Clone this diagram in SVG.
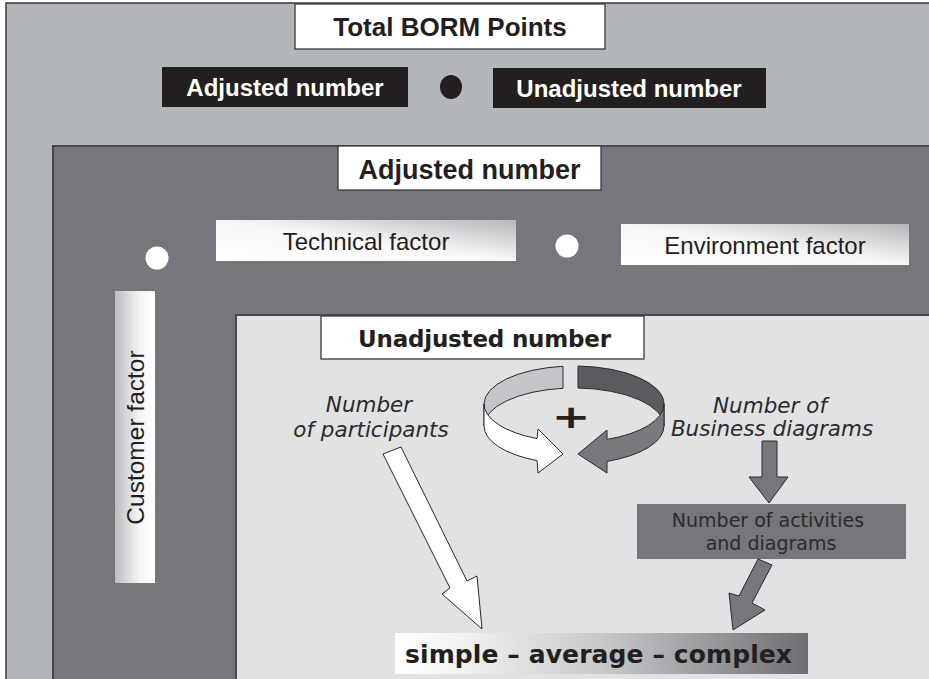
<svg xmlns="http://www.w3.org/2000/svg" width="929" height="679" viewBox="0 0 929 679">
<defs>
<style>
.bold{font-family:"Liberation Sans",Arial,sans-serif;font-weight:bold;fill:#231f20}
.wtxt{font-family:"Liberation Sans",Arial,sans-serif;font-weight:bold;fill:#ffffff}
.reg{font-family:"Liberation Sans",Arial,sans-serif;fill:#231f20}
.vb{font-family:"DejaVu Sans",Verdana,sans-serif;font-weight:bold;fill:#231f20}
.vi{font-family:"DejaVu Sans",Verdana,sans-serif;font-style:italic;fill:#2b2b2b}
.vr{font-family:"DejaVu Sans",Verdana,sans-serif;fill:#2b2b2b}
.wbox{fill:#ffffff;stroke:#3a3a3a;stroke-width:1.3}
.blk{fill:#231f20}
.edge{stroke:#2a2a2a;stroke-width:1;stroke-linejoin:miter}
</style>
<linearGradient id="gFactor" x1="0" y1="1" x2="1" y2="0">
<stop offset="0" stop-color="#ffffff"/>
<stop offset="0.5" stop-color="#f7f7f8"/>
<stop offset="1" stop-color="#b5b6b9"/>
</linearGradient>
<linearGradient id="gCust" x1="0" y1="0" x2="1" y2="0">
<stop offset="0" stop-color="#bcbdc0"/>
<stop offset="0.6" stop-color="#f4f4f5"/>
<stop offset="1" stop-color="#ffffff"/>
</linearGradient>
<linearGradient id="gScale" x1="0" y1="0" x2="1" y2="0">
<stop offset="0" stop-color="#ffffff"/>
<stop offset="0.12" stop-color="#f6f6f7"/>
<stop offset="0.5" stop-color="#c8c9cb"/>
<stop offset="1" stop-color="#6d6e72"/>
</linearGradient>
</defs>

<rect x="0" y="0" width="929" height="679" fill="#ffffff"/>
<g id="outer-panel">
<rect x="6" y="3" width="940" height="700" fill="#b4b7ba" stroke="#3c3c3c" stroke-width="1.5"/>
</g>

<g id="total-borm-points">
<rect class="wbox" x="295" y="4" width="310" height="45"/>
<text class="bold" x="450" y="36" font-size="26" text-anchor="middle">Total BORM Points</text>
</g>
<g id="top-adjusted">
<rect class="blk" x="162" y="67" width="246" height="40"/>
<text class="wtxt" x="285" y="96" font-size="24" text-anchor="middle">Adjusted number</text>
</g>
<g id="top-dot">
<ellipse cx="451" cy="87" rx="11" ry="12" fill="#231f20"/>
</g>
<g id="top-unadjusted">
<rect class="blk" x="493" y="68" width="273" height="40"/>
<text class="wtxt" x="629" y="97" font-size="24" text-anchor="middle">Unadjusted number</text>
</g>

<g id="adjusted-panel">
<rect x="52" y="145" width="890" height="550" fill="#76777c"/>
<path d="M53,700 V146 H940" fill="none" stroke="#48484c" stroke-width="2"/>
</g>
<g id="adjusted-number">
<rect class="wbox" x="338" y="146" width="263" height="44"/>
<text class="bold" x="469.5" y="179" font-size="27" text-anchor="middle">Adjusted number</text>
</g>
<g id="dot-customer">
<circle cx="157" cy="258" r="11.5" fill="#ffffff"/>
</g>
<g id="technical-factor">
<rect x="216" y="220" width="300" height="41" fill="url(#gFactor)"/>
<text class="reg" x="366" y="250" font-size="24" text-anchor="middle">Technical factor</text>
</g>
<g id="dot-technical">
<circle cx="567" cy="246" r="11.5" fill="#ffffff"/>
</g>
<g id="environment-factor">
<rect x="621" y="224" width="288" height="41" fill="url(#gFactor)"/>
<text class="reg" x="765" y="254" font-size="24" text-anchor="middle">Environment factor</text>
</g>
<g id="customer-factor">
<rect x="115" y="291" width="40" height="292" fill="url(#gCust)"/>
<text class="reg" transform="translate(144,437.5) rotate(-90)" x="0" y="0" font-size="24.5" text-anchor="middle">Customer factor</text>
</g>

<g id="unadjusted-panel">
<rect x="235" y="314" width="705" height="380" fill="#e1e2e4"/>
<path d="M236,700 V315 H940" fill="none" stroke="#4a4a4e" stroke-width="2"/>
</g>
<g id="unadjusted-number">
<rect class="wbox" x="321" y="316" width="323" height="43"/>
<text class="vb" x="358" y="347" font-size="23" textLength="253" lengthAdjust="spacing">Unadjusted number</text>
</g>

<g id="plus-cycle">
<path class="edge" fill="#c4c5c8" d="M563,366.3 A90,38 0 0 0 484,404 L484,426 A90,38 0 0 1 563,388.3 Z"/>
<path class="edge" fill="#5b5b5f" d="M578,366 A90,38 0 0 1 664,404 L664,426 A90,38 0 0 0 578,388 Z"/>
<path class="edge" fill="#ffffff" d="M484,404 A90,38 0 0 0 537,438.6 L538,429 L563,454 L538,473 L537,460.6 A90,38 0 0 1 484,426 Z"/>
<path class="edge" fill="#7a7a7e" d="M664,404 A90,38 0 0 1 607,439.4 L607,430 L578,454 L607,473 L607,461.4 A90,38 0 0 0 664,426 Z"/>
<g transform="translate(571,417) scale(1.05,0.72)">
<text class="vb" x="0" y="15" font-size="44" text-anchor="middle">+</text>
</g>
</g>

<g id="participants">
<text class="vi" font-size="21.5" text-anchor="middle"><tspan x="369" y="412">Number</tspan><tspan x="371" y="437">of participants</tspan></text>
</g>
<g id="business-diagrams">
<text class="vi" font-size="21.5" text-anchor="middle"><tspan x="770" y="413">Number of</tspan><tspan x="772" y="436">Business diagrams</tspan></text>
</g>
<g id="activities-diagrams">
<rect x="637" y="504" width="269" height="55" fill="#76777c"/>
<text class="vr" font-size="19" text-anchor="middle"><tspan x="768" y="527">Number of activities</tspan><tspan x="771" y="550">and diagrams</tspan></text>
</g>
<g id="complexity">
<rect x="395" y="633" width="413" height="41" fill="url(#gScale)"/>
<text class="vb" x="405" y="663" font-size="25" textLength="387" lengthAdjust="spacing">simple – average – complex</text>
</g>

<g id="connectors">
<polygon class="edge" fill="#ffffff" points="383,454 401,447 467,581 477,576 482,629 442,594 450,588"/>
<polygon class="edge" fill="#76777c" points="762,441 777,441 777,477 788,477 769,503 749,477 762,477"/>
<polygon class="edge" fill="#76777c" points="758,559 772,565 752,603 765,610 733,630 729,593 739,596"/>
</g>
</svg>
